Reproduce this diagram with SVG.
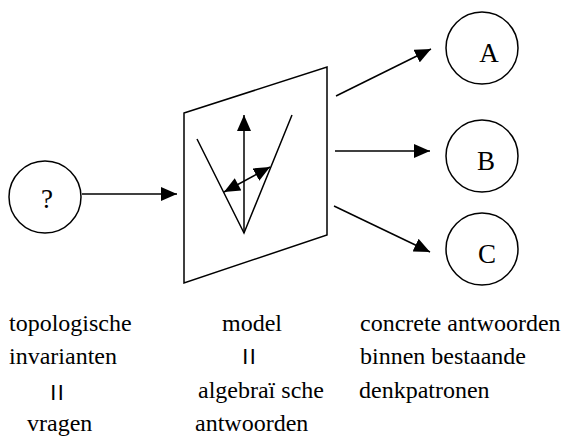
<svg xmlns="http://www.w3.org/2000/svg" width="563" height="436" viewBox="0 0 563 436">
<style>
.ln{stroke:#000;stroke-width:1.5;fill:none}
.nd{stroke:#000;stroke-width:1.5;fill:#fff}
.t{font-family:'Liberation Serif','Times New Roman',serif;font-size:24px;fill:#000}
.lb{font-family:'Liberation Serif','Times New Roman',serif;font-size:27px;fill:#000;text-anchor:middle}
.eq{font-family:'Liberation Sans',Arial,sans-serif;font-size:16px;font-weight:bold;letter-spacing:3px;fill:#000}
</style>
<defs>
<marker id="ah" markerUnits="userSpaceOnUse" markerWidth="18" markerHeight="14" refX="16" refY="7" orient="auto">
<path d="M0,0 L16,7 L0,14 Z" fill="#000"/>
</marker>
<marker id="as" markerUnits="userSpaceOnUse" markerWidth="18" markerHeight="14" refX="0" refY="7" orient="auto">
<path d="M16,0 L0,7 L16,14 Z" fill="#000"/>
</marker>
</defs>
<g id="q"><circle class="nd" cx="45" cy="197" r="36"/><text class="lb" x="47" y="208">?</text></g>
<g id="model">
<polygon class="nd" points="184,113 327,67 327,235 184,283"/>
<polyline class="ln" points="197,139 244,233 292,115"/>
</g>
<g id="a"><circle class="nd" cx="482" cy="48" r="36"/><text class="lb" x="489" y="62">A</text></g>
<g id="b"><circle class="nd" cx="482" cy="156" r="36"/><text class="lb" x="486" y="170">B</text></g>
<g id="c"><circle class="nd" cx="482" cy="249" r="36"/><text class="lb" x="487" y="263">C</text></g>
<g id="connectors">
<line class="ln" x1="82" y1="194" x2="177" y2="194" marker-end="url(#ah)"/>
<line class="ln" x1="244" y1="233" x2="244" y2="115" marker-end="url(#ah)"/>
<line class="ln" x1="224" y1="192" x2="270" y2="167" marker-start="url(#as)" marker-end="url(#ah)"/>
<line class="ln" x1="336" y1="96" x2="431" y2="49" marker-end="url(#ah)"/>
<line class="ln" x1="335" y1="151" x2="430" y2="151" marker-end="url(#ah)"/>
<line class="ln" x1="334" y1="206" x2="430" y2="252" marker-end="url(#ah)"/>
</g>
<g id="labels">
<text class="t" x="9" y="331">topologische</text>
<text class="t" x="222" y="331">model</text>
<text class="t" x="360" y="331">concrete antwoorden</text>
<text class="t" x="9" y="364">invarianten</text>
<text class="eq" x="243" y="360.5">||</text>
<text class="t" x="360" y="364">binnen bestaande</text>
<text class="eq" x="51" y="396.5">||</text>
<text class="t" x="198" y="397.5">algebraï sche</text>
<text class="t" x="359" y="397.5">denkpatronen</text>
<text class="t" x="27" y="431">vragen</text>
<text class="t" x="195" y="431">antwoorden</text>
</g>
</svg>
